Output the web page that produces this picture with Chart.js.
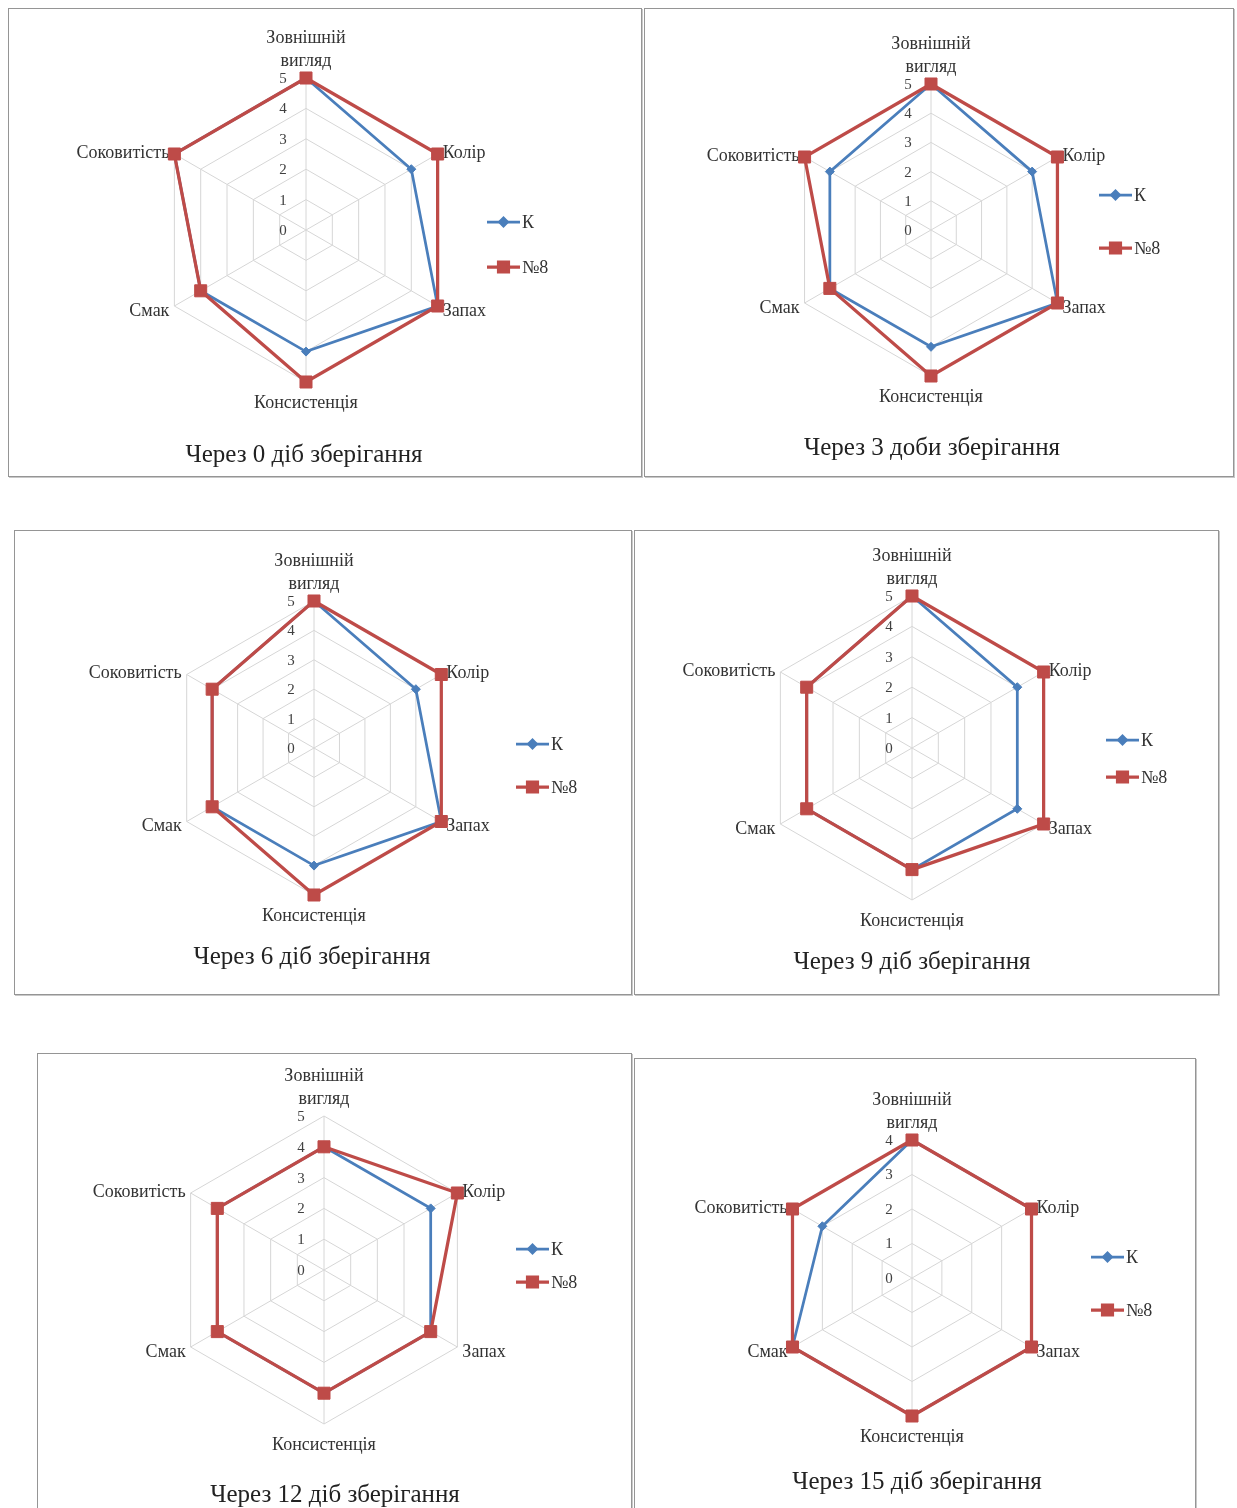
<!DOCTYPE html>
<html lang="uk">
<head>
<meta charset="utf-8">
<title>Органолептична оцінка під час зберігання</title>
<script src="https://cdn.jsdelivr.net/npm/chart.js@4.4.1/dist/chart.umd.min.js"></script>
<style>
  html, body { margin: 0; padding: 0; background: #ffffff; }
  body { position: relative; width: 1237px; height: 1508px; overflow: hidden; }
  .panel { position: absolute; box-sizing: border-box; border: 1px solid #959595;
           box-shadow: 1px 1px 0 #c8c8c8; background: #ffffff; }
  .panel canvas { position: absolute; left: 0; top: 0; }
</style>
</head>
<body>
<script>
// Quality attributes (axes of every radar)
const categories = [['Зовнішній', 'вигляд'], 'Колір', 'Запах', 'Консистенція', 'Смак', 'Соковитість'];
const seriesNames = ['К', '№8'];
const panelTitles = [
  'Через 0 діб зберігання',
  'Через 3 доби зберігання',
  'Через 6 діб зберігання',
  'Через 9 діб зберігання',
  'Через 12 діб зберігання',
  'Через 15 діб зберігання'
];

// Scores, points (control sample К and sample №8)
const kDay0   = [5, 4, 5, 4, 4, 5];
const n8Day0  = [5, 5, 5, 5, 4, 5];
const kDay3   = [5, 4, 5, 4, 4, 4];
const n8Day3  = [5, 5, 5, 5, 4, 5];
const kDay6   = [5, 4, 5, 4, 4, 4];
const n8Day6  = [5, 5, 5, 5, 4, 4];
const kDay9   = [5, 4, 4, 4, 4, 4];
const n8Day9  = [5, 5, 5, 4, 4, 4];
const kDay12  = [4, 4, 4, 4, 4, 4];
const n8Day12 = [4, 5, 4, 4, 4, 4];
const kDay15  = [4, 4, 4, 4, 4, 3];
const n8Day15 = [4, 4, 4, 4, 4, 4];

// Upper limit of the radial scale on each panel
const scaleMaxima = [5, 5, 5, 5, 5, 4];

const kSeries  = [kDay0, kDay3, kDay6, kDay9, kDay12, kDay15];
const n8Series = [n8Day0, n8Day3, n8Day6, n8Day9, n8Day12, n8Day15];

// Page layout of the six framed panels (page pixels)
const panels = [
  { box: [8, 8, 642, 477],      center: [306, 230],  radius: 152, legendX: 487,  legendY: [222, 267],   title: [304, 455] },
  { box: [644, 8, 1234, 477],   center: [931, 230],  radius: 146, legendX: 1099, legendY: [195, 248],   title: [932, 448] },
  { box: [14, 530, 632, 995],   center: [314, 748],  radius: 147, legendX: 516,  legendY: [744, 787],   title: [312, 957] },
  { box: [634, 530, 1219, 995], center: [912, 748],  radius: 152, legendX: 1106, legendY: [740, 777],   title: [912, 962] },
  { box: [37, 1053, 632, 1520], center: [324, 1270], radius: 154, legendX: 516,  legendY: [1249, 1282], title: [335, 1495] },
  { box: [634, 1058, 1196, 1520], center: [912, 1278], radius: 138, legendX: 1091, legendY: [1257, 1310], title: [917, 1482] }
];

const SERIF = '"Liberation Serif", "Times New Roman", serif';
const BLUE = '#4a7ebb';
const RED = '#be4b48';

// Axis numbers, category names, legend and caption in the office-chart style
const radarDecor = {
  id: 'radarDecor',
  beforeDatasetsDraw(chart, args, opts) {
    const s = chart.scales.r;
    const ctx = chart.ctx;
    ctx.save();
    ctx.textBaseline = 'middle';
    // numbers placed just left of the vertical spoke
    ctx.font = '15px ' + SERIF;
    ctx.fillStyle = '#404040';
    ctx.textAlign = 'center';
    s.ticks.forEach(t => {
      const d = s.getDistanceFromCenterForValue(t.value);
      ctx.fillText(t.label, s.xCenter - 23, s.yCenter - d + 1);
    });
    // category names at the spoke ends
    ctx.font = '18px ' + SERIF;
    ctx.fillStyle = '#333333';
    chart.data.labels.forEach((lab, i) => {
      const p = s.getPointPosition(i, s.drawingArea);
      const dx = p.x - s.xCenter;
      const dy = p.y - s.yCenter;
      const lines = Array.isArray(lab) ? lab : [lab];
      if (Math.abs(dx) < 1) {
        ctx.textAlign = 'center';
        if (dy < 0) {
          lines.forEach((ln, k) => ctx.fillText(ln, p.x, p.y - 17 - (lines.length - 1 - k) * 23));
        } else {
          lines.forEach((ln, k) => ctx.fillText(ln, p.x, p.y + 21 + k * 23));
        }
      } else {
        ctx.textAlign = dx > 0 ? 'left' : 'right';
        ctx.fillText(lines.join(' '), p.x + (dx > 0 ? 5 : -5), p.y + (dy < 0 ? -1 : 5));
      }
    });
    ctx.restore();
  },
  afterDraw(chart, args, opts) {
    const ctx = chart.ctx;
    ctx.save();
    // legend: line with marker, then series name
    chart.data.datasets.forEach((ds, i) => {
      const y = opts.legendY[i];
      const x0 = opts.legendX;
      const x1 = x0 + 33;
      ctx.strokeStyle = ds.borderColor;
      ctx.lineWidth = ds.borderWidth;
      ctx.beginPath();
      ctx.moveTo(x0, y);
      ctx.lineTo(x1, y);
      ctx.stroke();
      ctx.fillStyle = ds.pointBackgroundColor;
      ctx.strokeStyle = ds.pointBorderColor;
      Chart.helpers.drawPoint(ctx, {
        pointStyle: ds.pointStyle,
        radius: ds.legendRadius,
        rotation: 0,
        borderWidth: 1
      }, (x0 + x1) / 2, y);
      ctx.font = '18px ' + SERIF;
      ctx.fillStyle = '#333333';
      ctx.textAlign = 'left';
      ctx.textBaseline = 'middle';
      ctx.fillText(ds.label, x1 + 2, y + 1);
    });
    // caption under the radar
    ctx.font = '25px ' + SERIF;
    ctx.fillStyle = '#222222';
    ctx.textAlign = 'center';
    ctx.textBaseline = 'middle';
    ctx.fillText(opts.title, opts.titleX, opts.titleY);
    ctx.restore();
  }
};

panels.forEach((pn, idx) => {
  const [L, T, R, B] = pn.box;
  const div = document.createElement('div');
  div.className = 'panel';
  div.style.left = L + 'px';
  div.style.top = T + 'px';
  div.style.width = (R - L) + 'px';
  div.style.height = (B - T) + 'px';
  document.body.appendChild(div);

  const cw = R - L - 2;
  const ch = B - T - 2;
  const ox = L + 1;
  const oy = T + 1;
  const canvas = document.createElement('canvas');
  canvas.width = cw;
  canvas.height = ch;
  canvas.style.width = cw + 'px';
  canvas.style.height = ch + 'px';
  div.appendChild(canvas);

  const cx = pn.center[0] - ox;
  const cy = pn.center[1] - oy;
  const r = pn.radius;

  new Chart(canvas, {
    type: 'radar',
    data: {
      labels: categories,
      datasets: [
        {
          label: seriesNames[0],
          data: kSeries[idx],
          borderColor: BLUE,
          borderWidth: 2.75,
          pointStyle: 'rectRot',
          pointRadius: 4.5,
          pointBackgroundColor: BLUE,
          pointBorderColor: BLUE,
          pointBorderWidth: 1,
          legendRadius: 4,
          fill: false,
          tension: 0,
          order: 1
        },
        {
          label: seriesNames[1],
          data: n8Series[idx],
          borderColor: RED,
          borderWidth: 3.25,
          pointStyle: 'rect',
          pointRadius: 8.5,
          pointBackgroundColor: RED,
          pointBorderColor: RED,
          pointBorderWidth: 1,
          legendRadius: 7,
          fill: false,
          tension: 0,
          order: 0
        }
      ]
    },
    options: {
      responsive: false,
      animation: false,
      devicePixelRatio: 1,
      events: [],
      layout: {
        autoPadding: false,
        padding: { left: cx - r, top: cy - r, right: cw - (cx + r), bottom: ch - (cy + r) }
      },
      scales: {
        r: {
          min: 0,
          max: scaleMaxima[idx],
          ticks: { stepSize: 1, display: false },
          grid: { color: '#d6d6d6', lineWidth: 1 },
          angleLines: { color: '#d6d6d6', lineWidth: 1 },
          pointLabels: { display: false }
        }
      },
      plugins: {
        legend: { display: false },
        title: { display: false },
        tooltip: { enabled: false },
        radarDecor: {
          legendX: pn.legendX - ox,
          legendY: pn.legendY.map(v => v - oy),
          title: panelTitles[idx],
          titleX: pn.title[0] - ox,
          titleY: pn.title[1] - oy
        }
      }
    },
    plugins: [radarDecor]
  });
});
</script>
</body>
</html>
